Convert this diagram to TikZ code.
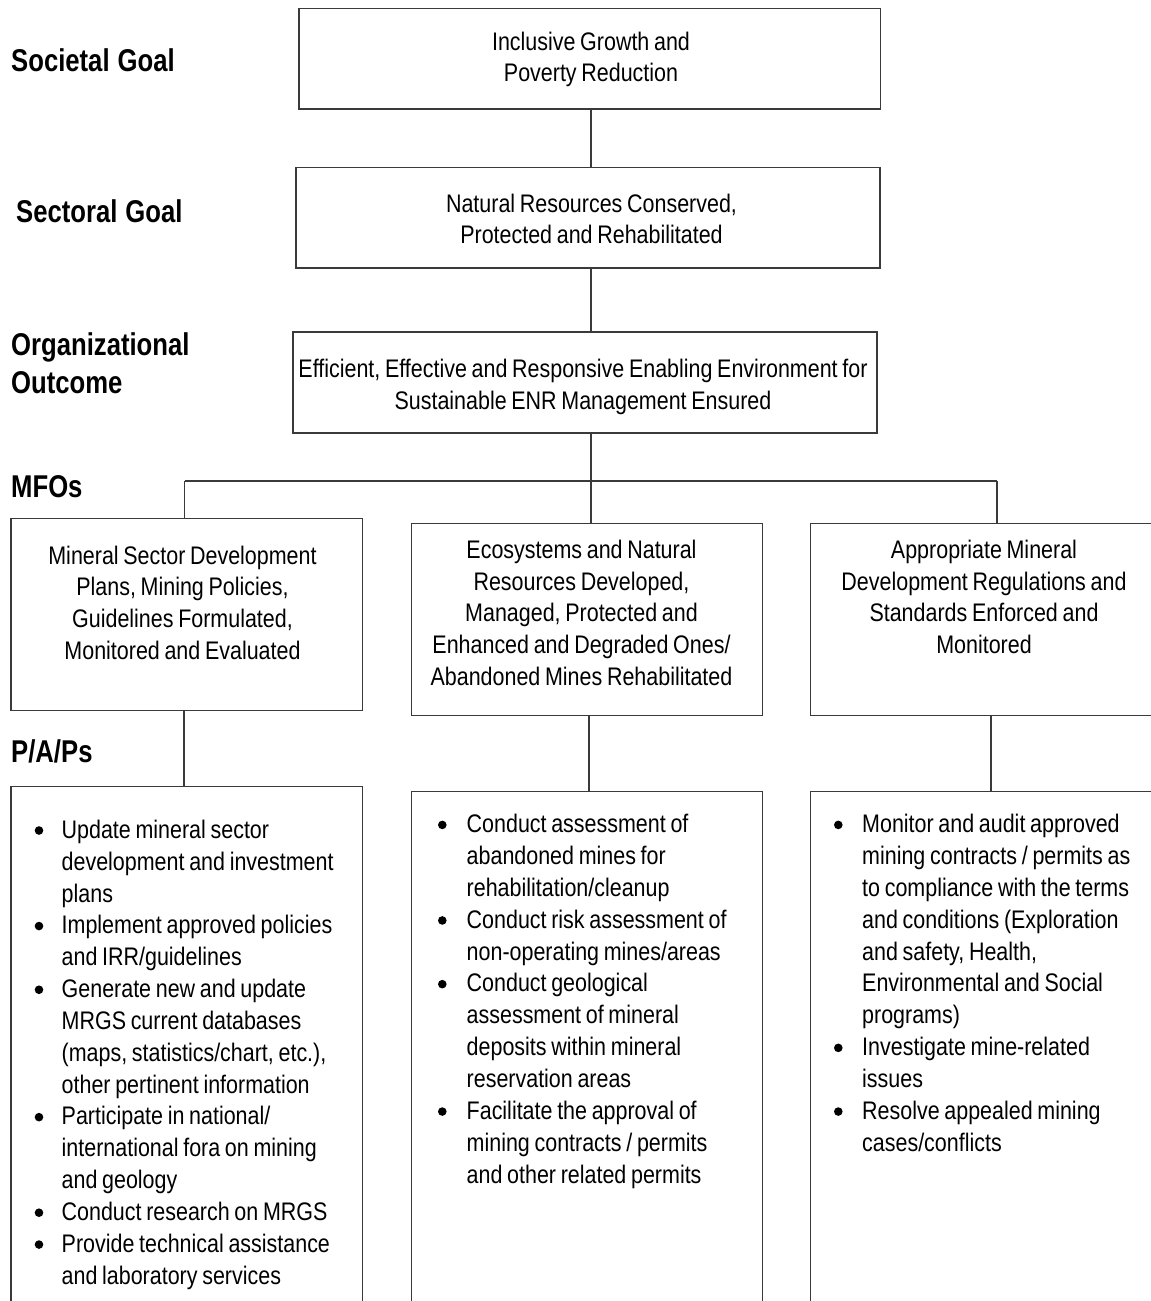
\documentclass[tikz,border=0pt]{standalone}
\usepackage{fontspec}
\setmainfont{Liberation Sans}[FakeStretch=0.845]
\newfontfamily\headfont{Liberation Sans}[FakeStretch=0.815]
\definecolor{linec}{HTML}{3A3A3A}
\newcommand\bodyfnt{\fontsize{25.4}{31.8}\selectfont}
\newcommand\listfnt{\fontsize{25.4}{31.85}\selectfont}
\newcommand\headfnt{\headfont\bfseries\fontsize{31.5}{38.3}\selectfont}
\newcommand\tightsp{\spaceskip=4.7pt\xspaceskip=4.9pt\relax}
\newcommand\tightsph{\spaceskip=8pt\xspaceskip=8pt\relax}
\begin{document}
\begin{tikzpicture}[x=1pt,y=-1pt,
  box/.style={draw=linec,line width=1.3pt,rectangle,inner sep=0pt,outer sep=0pt},
  conn/.style={draw=linec,line width=1.3pt},
  btxt/.style={font=\bodyfnt,execute at begin node=\tightsp,inner sep=0pt,anchor=base,align=center,text width=#1},
  ltxt/.style={font=\listfnt,execute at begin node=\tightsp,inner sep=0pt,anchor=base west,align=left,text width=400pt},
  head/.style={font=\headfnt,execute at begin node=\tightsph,inner sep=0pt,anchor=base west,align=left,text width=300pt},
  bul/.style={fill=black,circle,inner sep=0pt,minimum size=8.6pt}]
\useasboundingbox (0,0) rectangle (1151,1301);
\clip (0,0) rectangle (1151,1301);
\fill[white] (0,0) rectangle (1151,1301);

% level labels
\node[head] (hSoc) at (11,71) {Societal Goal};
\node[head] (hSec) at (16,222.7) {Sectoral Goal};
\node[head] (hOrg) at (11,355) {Organizational\\Outcome};
\node[head] (hMfo) at (11,497) {MFOs};
\node[head] (hPap) at (11,762) {P/A/Ps};

% top boxes
\node[box,minimum width=581.5pt,minimum height=100.7pt] (b1) at (589.75,58.65) {};
\node[box,minimum width=584pt,minimum height=100.7pt] (b2) at (588,217.65) {};
\node[box,minimum width=584pt,minimum height=101pt] (b3) at (585,382.5) {};
\node[btxt=700pt] (t1) at (591,50) {Inclusive Growth and\\Poverty Reduction};
\node[btxt=700pt] (t2) at (591.5,212) {Natural Resources Conserved,\\Protected and Rehabilitated};
\node[btxt=700pt] (t3) at (583,377.7) {Efficient, Effective and Responsive Enabling Environment for\\Sustainable ENR Management Ensured};

% MFO boxes
\node[box,minimum width=351.5pt,minimum height=192pt] (mL) at (186.75,614.7) {};
\node[box,minimum width=351pt,minimum height=192pt] (mM) at (587.2,619.3) {};
\node[box,minimum width=347.7pt,minimum height=192pt] (mR) at (984.15,619.3) {};
\node[btxt=450pt] (tL) at (182.5,564) {Mineral Sector Development\\Plans, Mining Policies,\\Guidelines Formulated,\\Monitored and Evaluated};
\node[btxt=450pt] (tM) at (581.5,558.3) {Ecosystems and Natural\\Resources Developed,\\Managed, Protected and\\Enhanced and Degraded Ones/\\Abandoned Mines Rehabilitated};
\node[btxt=450pt] (tR) at (984,558.3) {Appropriate Mineral\\Development Regulations and\\Standards Enforced and\\Monitored};

% P/A/P boxes (open at the bottom edge)
\node[box,minimum width=351.5pt,minimum height=533.3pt] (pL) at (186.75,1053.35) {};
\node[box,minimum width=351pt,minimum height=528.3pt] (pM) at (587.2,1055.85) {};
\node[box,minimum width=347.7pt,minimum height=528.3pt] (pR) at (984.15,1055.85) {};

\node[ltxt] (lL) at (61.5,838.3) {Update mineral sector\\development and investment\\plans\\Implement approved policies\\and IRR/guidelines\\Generate new and update\\MRGS current databases\\(maps, statistics/chart, etc.),\\other pertinent information\\Participate in national/\\international fora on mining\\and geology\\Conduct research on MRGS\\Provide technical assistance\\and laboratory services};
\node[ltxt] (lM) at (466.5,832.7) {Conduct assessment of\\abandoned mines for\\rehabilitation/cleanup\\Conduct risk assessment of\\non-operating mines/areas\\Conduct geological\\assessment of mineral\\deposits within mineral\\reservation areas\\Facilitate the approval of\\mining contracts / permits\\and other related permits};
\node[ltxt] (lR) at (862,832.7) {Monitor and audit approved\\mining contracts / permits as\\to compliance with the terms\\and conditions (Exploration\\and safety, Health,\\Environmental and Social\\programs)\\Investigate mine-related\\issues\\Resolve appealed mining\\cases/conflicts};

% bullets
\foreach \k [count=\i] in {0,3,5,9,12,13}
  \node[bul] (bL\i) at (39,838.3+\k*31.85-7.8) {};
\foreach \k [count=\i] in {0,3,5,9}
  \node[bul] (bM\i) at (442.3,832.7+\k*31.85-7.8) {};
\foreach \k [count=\i] in {0,7,9}
  \node[bul] (bR\i) at (838.3,832.7+\k*31.85-7.8) {};

% connectors
\coordinate (spine) at (591,0);
\coordinate (jL) at (184.5,481);
\coordinate (jM) at (591,481);
\coordinate (jR) at (997,481);
\draw[conn] (b1.south -| spine) -- (b2.north -| spine);
\draw[conn] (b2.south -| spine) -- (b3.north -| spine);
\draw[conn] (b3.south -| spine) -- (jM);
\draw[conn] (jL) -- (jR);
\draw[conn] (jM) -- (mM.north -| jM);
\draw[conn] (jL) -- (mL.north -| jL);
\draw[conn] (jR) -- (mR.north -| jR);
\coordinate (dL) at (184,0);
\coordinate (dM) at (589,0);
\coordinate (dR) at (991,0);
\draw[conn] (mL.south -| dL) -- (pL.north -| dL);
\draw[conn] (mM.south -| dM) -- (pM.north -| dM);
\draw[conn] (mR.south -| dR) -- (pR.north -| dR);
\end{tikzpicture}
\end{document}
